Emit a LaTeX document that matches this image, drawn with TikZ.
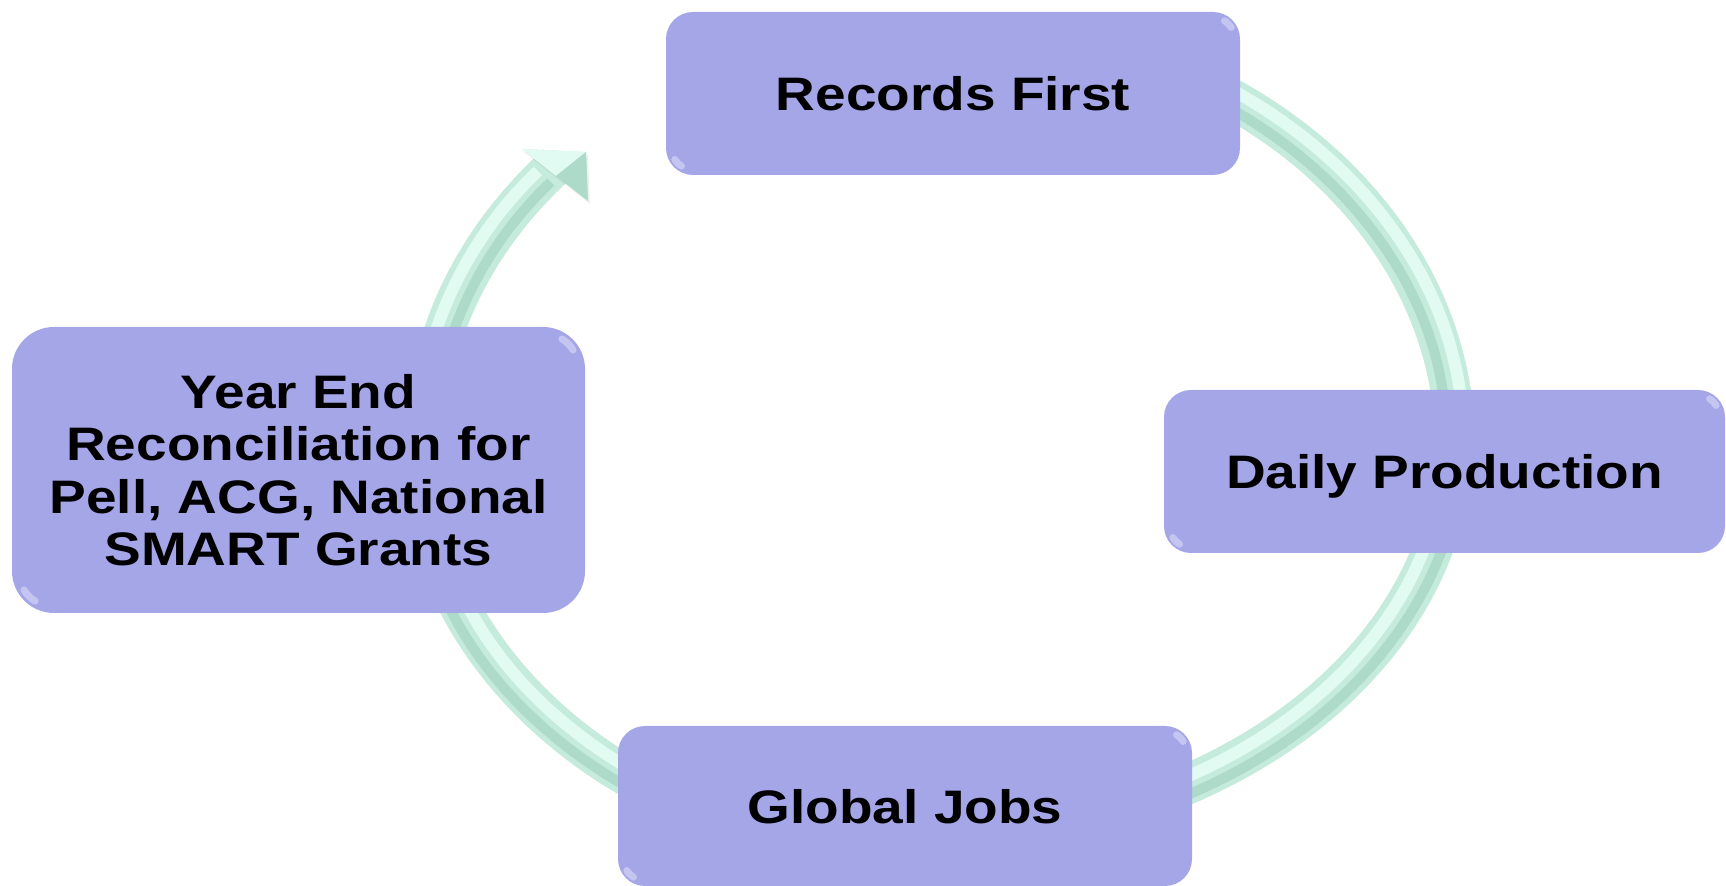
\documentclass[tikz,border=0pt]{standalone}
\usepackage{fontspec}
\setmainfont{Liberation Sans}[FakeStretch=1.17]
\usetikzlibrary{calc}
\definecolor{boxfill}{RGB}{165,166,232}
\definecolor{ringbase}{RGB}{196,235,219}
\definecolor{ringlight}{RGB}{226,251,242}
\definecolor{ringdark}{RGB}{174,218,201}
\tikzset{
  cyclebox/.style={rectangle, rounded corners=13.5pt, fill=boxfill, inner sep=0pt,
    text=black, align=center, text depth=0pt,
    font=\fontsize{23.5}{26.15}\selectfont\bfseries},
  ringband/.style={line width=20pt, draw=ringbase},
  ringshadow/.style={line width=20pt, draw=black, opacity=0.06, xshift=1pt, yshift=-1.5pt},
  ringhi/.style={line width=6pt, draw=ringlight, shorten >=5pt},
  ringlo/.style={line width=5pt, draw=ringdark, shorten >=5pt},
  glint/.style={draw=white, opacity=0.35, line width=3.5pt, line cap=round}
}
\begin{document}
\begin{tikzpicture}[x=0.5pt,y=-0.5pt]
\useasboundingbox (0,0) rectangle (1726,886);
\coordinate (top) at (940,445);   % centre of the upper arcs
\coordinate (bot) at (920,440);   % centre of the lower arcs
% ring segments (ends hidden behind the boxes)
\foreach \st in {ringshadow,ringband}{
  \draw[\st] ($(top)+(-62:515 and 420)$) arc[start angle=-62,end angle=0,x radius=515,y radius=420];
  \draw[\st] ($(bot)+(10:533 and 398)$) arc[start angle=10,end angle=70,x radius=533,y radius=398];
  \draw[\st] ($(bot)+(105:503 and 413.5)$) arc[start angle=105,end angle=160,x radius=503,y radius=413.5];
  \draw[\st] ($(top)+(190:515 and 420)$) arc[start angle=190,end angle=222,x radius=515,y radius=420];
}
% shading of the band: lighter on its upper side, darker on its lower side
\draw[ringlo] ($(top)+(-62:506 and 411)$) arc[start angle=-62,end angle=0,x radius=506,y radius=411];
\draw[ringhi] ($(top)+(-62:523 and 428)$) arc[start angle=-62,end angle=0,x radius=523,y radius=428];
\draw[ringlo] ($(bot)+(10:542 and 407)$) arc[start angle=10,end angle=70,x radius=542,y radius=407];
\draw[ringhi] ($(bot)+(10:525 and 390)$) arc[start angle=10,end angle=70,x radius=525,y radius=390];
\draw[ringlo] ($(bot)+(105:512 and 422.5)$) arc[start angle=105,end angle=160,x radius=512,y radius=422.5];
\draw[ringhi] ($(bot)+(105:495 and 405.5)$) arc[start angle=105,end angle=160,x radius=495,y radius=405.5];
\draw[ringlo] ($(top)+(190:506 and 411)$) arc[start angle=190,end angle=221,x radius=506,y radius=411];
\draw[ringhi] ($(top)+(190:523 and 428)$) arc[start angle=190,end angle=221,x radius=523,y radius=428];
% arrow head
\coordinate (tip) at (586,152);
\coordinate (barbL) at (522,149);
\coordinate (barbR) at (588,201);
\coordinate (hb) at (556,176);
\fill[black, opacity=0.06] ([shift={(2,3)}]barbL) -- ([shift={(2,3)}]tip) -- ([shift={(2,3)}]barbR) -- cycle;
\fill[ringbase] (barbL) -- (tip) -- (barbR) -- cycle;
\fill[ringlight] (barbL) -- (tip) -- (hb) -- cycle;
\fill[ringdark] (tip) -- (barbR) -- (hb) -- cycle;
% boxes
\node[cyclebox, minimum width=287pt, minimum height=81.5pt] (rec) at (953,93.5) {Records First};
\node[cyclebox, minimum width=280.5pt, minimum height=81.5pt] (daily) at (1444.5,471.5) {Daily Production};
\node[cyclebox, minimum width=287pt, minimum height=80pt] (glob) at (905,806) {Global Jobs};
\node[cyclebox, rounded corners=21pt, minimum width=286.5pt, minimum height=143pt] (year) at (298.5,470) {Year End\\Reconciliation for\\Pell, ACG, National\\SMART Grants};
% glints
\foreach \b in {rec,daily,glob}{
  \draw[glint] ($(\b.north east)+(-27,27)$) ++(-32:21) arc[start angle=-32,end angle=-58,radius=21];
  \draw[glint] ($(\b.south west)+(27,-27)$) ++(148:21) arc[start angle=148,end angle=122,radius=21];
}
\draw[glint] ($(year.north east)+(-42,42)$) ++(-32:35) arc[start angle=-32,end angle=-58,radius=35];
\draw[glint] ($(year.south west)+(42,-42)$) ++(148:35) arc[start angle=148,end angle=122,radius=35];
\end{tikzpicture}
\end{document}
